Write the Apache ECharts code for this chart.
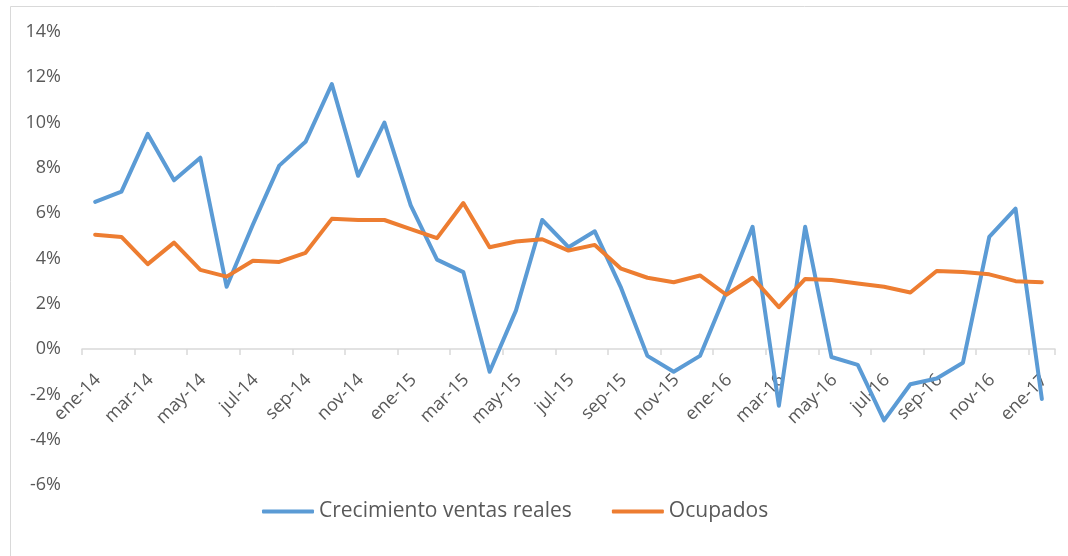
<!DOCTYPE html>
<html>
<head>
<meta charset="utf-8">
<script src="https://cdn.jsdelivr.net/npm/echarts@6/dist/echarts.min.js"></script>
<style>
    html, body { margin: 0; padding: 0; background: #fff; }
    #chart { width: 1068px; height: 556px; }
</style>
</head>
<body>
<div id="chart"></div>
<script>
// meses ene-14 .. ene-17
const months = [
    'ene-14','feb-14','mar-14','abr-14','may-14','jun-14','jul-14','ago-14','sep-14','oct-14','nov-14','dic-14',
    'ene-15','feb-15','mar-15','abr-15','may-15','jun-15','jul-15','ago-15','sep-15','oct-15','nov-15','dic-15',
    'ene-16','feb-16','mar-16','abr-16','may-16','jun-16','jul-16','ago-16','sep-16','oct-16','nov-16','dic-16',
    'ene-17'
];

// valores en %
const ventasReales = [
    6.5, 6.95, 9.5, 7.45, 8.45, 2.75, 5.5, 8.1, 9.15, 11.7, 7.65, 10.0,
    6.35, 3.95, 3.4, -1.0, 1.7, 5.7, 4.5, 5.2, 2.7, -0.3, -1.0, -0.3,
    2.5, 5.4, -2.5, 5.4, -0.35, -0.7, -3.15, -1.55, -1.3, -0.6, 4.95, 6.2,
    -2.2
];

const ocupados = [
    5.05, 4.95, 3.75, 4.7, 3.5, 3.2, 3.9, 3.85, 4.25, 5.75, 5.7, 5.7,
    5.3, 4.9, 6.45, 4.5, 4.75, 4.85, 4.35, 4.6, 3.55, 3.15, 2.95, 3.25,
    2.4, 3.15, 1.85, 3.1, 3.05, 2.9, 2.75, 2.5, 3.45, 3.4, 3.3, 3.0,
    2.95
];

const yTicks = { min: -6, max: 14, step: 2 };

const chart = echarts.init(document.getElementById('chart'));

const txt = '#595959';
const font = 'Open Sans';
const gridTop = 32, gridBottom = 71;
const plotH = 556 - gridTop - gridBottom;
// the category axis sits on the 0% line
const zeroOffset = -plotH * (0 - yTicks.min) / (yTicks.max - yTicks.min);

chart.setOption({
    animation: false,
    textStyle: { fontFamily: font },
    graphic: [{
        type: 'rect',
        shape: { x: 10.5, y: 6.5, width: 1070, height: 570 },
        style: { fill: 'none', stroke: '#d9d9d9', lineWidth: 1 }
    }],
    grid: { left: 82, right: 13, top: gridTop, bottom: gridBottom },
    legend: {
        left: 257,
        top: 496,
        itemWidth: 52,
        itemHeight: 4,
        itemGap: 40,
        icon: 'roundRect',
        textStyle: { color: txt, fontSize: 21, fontFamily: font },
        data: ['Crecimiento ventas reales', 'Ocupados']
    },
    xAxis: {
        type: 'category',
        data: months,
        boundaryGap: true,
        offset: zeroOffset,
        axisLine: { onZero: false, lineStyle: { color: '#d9d9d9', width: 1.5 } },
        axisTick: { show: true, interval: 1, length: 6, lineStyle: { color: '#d9d9d9', width: 1.5 } },
        axisLabel: {
            interval: 1,
            rotate: 45,
            align: 'right',
            verticalAlign: 'top',
            padding: [0, 5, 0, 0],
            color: txt,
            fontSize: 18,
            fontFamily: font,
            margin: 18
        },
        splitLine: { show: false }
    },
    yAxis: {
        type: 'value',
        min: yTicks.min,
        max: yTicks.max,
        interval: yTicks.step,
        axisLine: { show: false },
        axisTick: { show: false },
        splitLine: { show: false },
        axisLabel: {
            color: txt,
            fontSize: 18,
            fontFamily: font,
            margin: 21,
            formatter: v => v + '%'
        }
    },
    series: [
        {
            name: 'Crecimiento ventas reales',
            type: 'line',
            data: ventasReales,
            symbol: 'none',
            color: '#5B9BD5',
            lineStyle: { width: 4, color: '#5B9BD5', cap: 'round', join: 'round' }
        },
        {
            name: 'Ocupados',
            type: 'line',
            data: ocupados,
            symbol: 'none',
            color: '#ED7D31',
            lineStyle: { width: 4, color: '#ED7D31', cap: 'round', join: 'round' }
        }
    ]
});
</script>
</body>
</html>
